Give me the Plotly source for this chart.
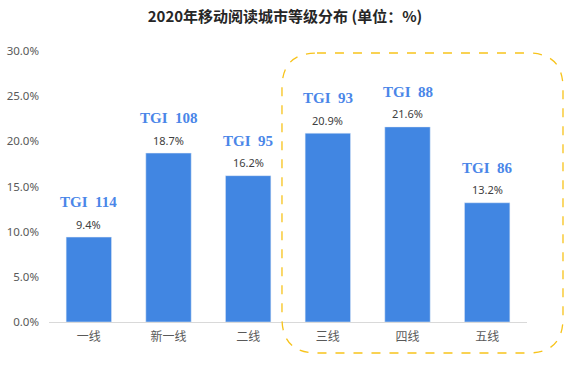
import plotly.graph_objects as go

categories = ["一线", "新一线", "二线", "三线", "四线", "五线"]
shares = [9.4, 18.7, 16.2, 20.9, 21.6, 13.2]
tgi = [114, 108, 95, 93, 88, 86]
y_ticks = [0, 5, 10, 15, 20, 25, 30]

BAR = "#4186e2"
CJK = "Microsoft YaHei, Noto Sans CJK SC, sans-serif"
fig = go.Figure()
fig.add_trace(go.Bar(
    x=categories, y=shares, marker_color=BAR, hoverinfo="skip",
))

for c, v, t in zip(categories, shares, tgi):
    fig.add_annotation(x=c, y=v, text=f"{v:.1f}%", showarrow=False,
                       yanchor="middle", yshift=13,
                       font=dict(size=11, color="#404040", family="Noto Sans, sans-serif"))
    fig.add_annotation(x=c, y=v, text=f"<b>TGI&nbsp;&nbsp;{t}</b>", showarrow=False,
                       yanchor="middle", yshift=35,
                       font=dict(size=15, color="#4a86e8", family="Liberation Serif, serif"))

# dashed rounded rectangle around the last three categories
x0, x1, y0, y1 = 0.4874, 1.0753, -0.1144, 0.9926
rx, ry = 0.0732, 0.129
path = (f"M {x0+rx},{y1} L {x1-rx},{y1} Q {x1},{y1} {x1},{y1-ry} "
        f"L {x1},{y0+ry} Q {x1},{y0} {x1-rx},{y0} L {x0+rx},{y0} "
        f"Q {x0},{y0} {x0},{y0+ry} L {x0},{y1-ry} Q {x0},{y1} {x0+rx},{y1} Z")
fig.add_shape(type="path", path=path, xref="paper", yref="paper",
              line=dict(color="#f7c31b", width=1.3, dash="dash"))

fig.update_layout(
    width=584, height=371,
    margin=dict(l=49, r=57, t=51, b=49),
    paper_bgcolor="white", plot_bgcolor="white",
    title=dict(text="<b>2020年移动阅读城市等级分布 (单位：%)</b>", x=0.488, xanchor="center",
               y=0.954, yanchor="middle",
               font=dict(size=15, color="#262626", family=CJK)),
    showlegend=False,
    bargap=0.43,
    xaxis=dict(showline=True, linecolor="#d9d9d9", linewidth=1, ticks="",
               ticklabelstandoff=4, automargin=False,
               tickfont=dict(size=12, color="#595959", family="Noto Sans CJK SC, sans-serif")),
    yaxis=dict(range=[0, 30], tickvals=y_ticks, ticktext=[f"{v:.1f}%" for v in y_ticks],
               showgrid=False, zeroline=False, showline=False, ticklabelstandoff=9,
               automargin=False,
               tickfont=dict(size=11.5, color="#595959", family="Noto Sans, sans-serif")),
)
fig.write_html("out.html", config={"displayModeBar": False},
               post_script="document.body.style.margin='0';")
